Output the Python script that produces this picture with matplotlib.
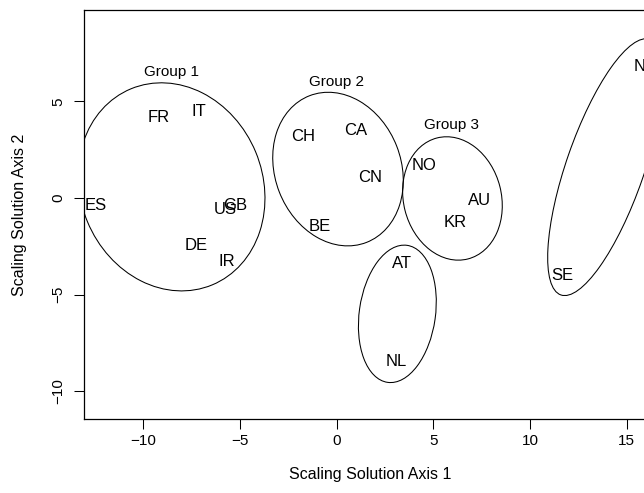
import matplotlib
matplotlib.use("Agg")
import matplotlib.pyplot as plt
from matplotlib.patches import Ellipse

plt.rcParams['font.family'] = ['Liberation Sans', 'DejaVu Sans']

# country scores on the first two scaling axes
countries = ['ES', 'FR', 'IT', 'US', 'GB', 'DE', 'IR',
             'CH', 'CA', 'CN', 'BE',
             'NO', 'AU', 'KR',
             'AT', 'NL',
             'SE', 'NZ']
axis1 = [-12.45, -9.23, -7.12, -5.78, -5.26, -7.28, -5.66,
         -1.73, 0.98, 1.72, -0.90,
         4.53, 7.41, 6.12,
         3.36, 3.10,
         11.69, 15.92]
axis2 = [-0.41, 4.15, 4.47, -0.57, -0.36, -2.47, -3.26,
         3.17, 3.52, 1.07, -1.48,
         1.71, -0.14, -1.28,
         -3.41, -8.47,
         -4.03, 6.79]

# cluster outlines: centre, full axes lengths, rotation (degrees)
ell_cx = [-8.54, 0.07, 5.99, 3.14, 13.90]
ell_cy = [0.58, 1.50, -0.02, -5.99, 1.60]
ell_w = [10.98, 8.14, 6.46, 7.16, 14.0]
ell_h = [9.42, 6.52, 5.06, 3.94, 4.02]
ell_angle = [112.5, 111.2, 104.3, 81.9, 70.8]

group_names = ['Group 1', 'Group 2', 'Group 3']
group_x = [-8.54, 0.0, 5.95]
group_y = [6.53, 6.02, 3.78]

fig = plt.figure(figsize=(6.44, 4.93), dpi=100)
ax = fig.add_axes([84 / 644, 74 / 493, 572 / 644, 409 / 493])

for cx, cy, w, h, a in zip(ell_cx, ell_cy, ell_w, ell_h, ell_angle):
    ax.add_patch(Ellipse((cx, cy), w, h, angle=a, fill=False,
                         edgecolor='black', linewidth=0.75))

for name, x, y in zip(countries, axis1, axis2):
    ax.text(x, y, name, ha='center', va='center', fontsize=12)

for name, x, y in zip(group_names, group_x, group_y):
    ax.text(x, y, name, ha='center', va='center', fontsize=11)

ax.set_xlim(-13.07, 16.52)
ax.set_ylim(-11.43, 9.73)
ax.set_xticks([-10, -5, 0, 5, 10, 15])
ax.set_yticks([-10, -5, 0, 5])
ax.set_xticklabels(['\u221210', '\u22125', '0', '5', '10', '15'])
ax.set_yticklabels(['\u221210', '\u22125', '0', '5'])

for sp in ax.spines.values():
    sp.set_linewidth(0.9)
ax.tick_params(direction='out', length=7.2, width=0.75, labelsize=11)
ax.tick_params(axis='x', pad=3.5)
ax.tick_params(axis='y', pad=6.5)
plt.setp(ax.get_yticklabels(), rotation=90, va='center')

ax.set_xlabel('Scaling Solution Axis 1', fontsize=11.5)
ax.set_ylabel('Scaling Solution Axis 2', fontsize=11.5)
ax.xaxis.set_label_coords(0.5, -56 / 409)
ax.xaxis.label.set_va('center')
ax.yaxis.set_label_coords(-64 / 572, 0.5)
ax.yaxis.label.set_va('center')

fig.savefig('out.png', dpi=100)
